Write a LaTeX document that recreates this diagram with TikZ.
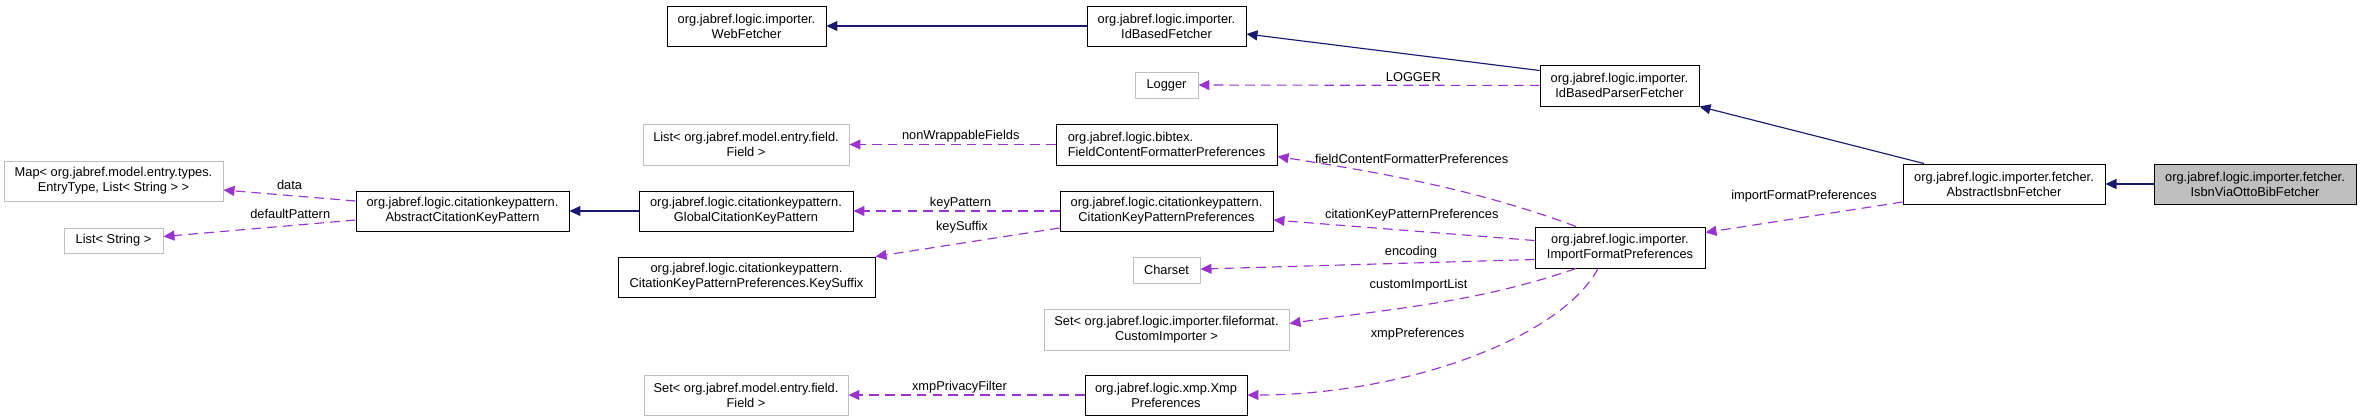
\documentclass[tikz,border=0pt]{standalone}
\usepackage{fontspec}
\setmainfont{Liberation Sans}
\usepackage{tikz}
\usetikzlibrary{calc,arrows.meta}
\definecolor{dxnavy}{RGB}{25,25,112}
\definecolor{dxpurple}{RGB}{154,50,205}
\definecolor{dxgrey}{RGB}{191,191,191}
\tikzset{
  boxfont/.style={font=\fontsize{7.3}{8.6}\selectfont},
  classbox/.style={boxfont,draw=black,fill=white,line width=0.55pt,inner sep=0pt,align=center},
  extbox/.style={classbox,draw=dxgrey},
  focusbox/.style={classbox,fill=dxgrey},
  inhline/.style={draw=dxnavy,line width=0.65pt,-{Triangle[length=2.2mm,width=2mm]}},
  useline/.style={draw=dxpurple,line width=0.65pt,dash pattern=on 5.5pt off 3.5pt,
    -{Triangle[length=2.2mm,width=2mm]}},
  edgelabel/.style={boxfont,inner sep=0pt,anchor=center,text=black},
}
% box from pixel corners: style, name, x1, y1, x2, y2, text
\newcommand{\dbox}[7]{%
  \node[#1,minimum width={(#5-#3)*0.02cm},minimum height={(#6-#4)*0.02cm}]
    (#2) at ({(#3+#5)/2},{(#4+#6)/2}) {#7};}

\begin{document}
\begin{tikzpicture}[x=0.02cm,y=-0.02cm]
        \useasboundingbox (0,0) rectangle (2361,417);
        \dbox{classbox}{web}{667}{6}{826}{46}{org.jabref.logic.importer.\\WebFetcher}
        \dbox{classbox}{idf}{1087}{6}{1246}{46}{org.jabref.logic.importer.\\IdBasedFetcher}
        \dbox{extbox}{logger}{1135}{72}{1198}{98}{Logger}
        \dbox{classbox}{idbp}{1540}{65}{1699}{106}{org.jabref.logic.importer.\\IdBasedParserFetcher}
        \dbox{extbox}{lfield}{643}{124}{849}{165}{List< org.jabref.model.entry.field.\\Field >}
        \dbox{classbox,align=left}{fcfp}{1056}{124}{1277}{165}{org.jabref.logic.bibtex.\\FieldContentFormatterPreferences}
        \dbox{extbox}{map}{4}{161}{223}{201}{Map< org.jabref.model.entry.types.\\EntryType, List< String > >}
        \dbox{classbox}{abs}{356}{191}{569}{231}{org.jabref.logic.citationkeypattern.\\AbstractCitationKeyPattern}
        \dbox{classbox}{glob}{639}{191}{853}{231}{org.jabref.logic.citationkeypattern.\\GlobalCitationKeyPattern}
        \dbox{classbox}{ckpp}{1060}{191}{1273}{231}{org.jabref.logic.citationkeypattern.\\CitationKeyPatternPreferences}
        \dbox{extbox}{lstr}{64}{228}{163}{253}{List< String >}
        \dbox{classbox}{suffix}{618}{257}{875}{297}{org.jabref.logic.citationkeypattern.\\CitationKeyPatternPreferences.KeySuffix}
        \dbox{extbox}{charset}{1133}{257}{1200}{283}{Charset}
        \dbox{extbox}{setci}{1044}{309}{1289}{350}{Set< org.jabref.logic.importer.fileformat.\\CustomImporter >}
        \dbox{classbox}{ifp}{1535}{227}{1705}{268}{org.jabref.logic.importer.\\ImportFormatPreferences}
        \dbox{classbox}{aisbn}{1903}{164}{2105}{204}{org.jabref.logic.importer.fetcher.\\AbstractIsbnFetcher}
        \dbox{focusbox}{isbn}{2154}{164}{2356}{204}{org.jabref.logic.importer.fetcher.\\IsbnViaOttoBibFetcher}
        \dbox{extbox}{setf}{644}{375}{848}{415}{Set< org.jabref.model.entry.field.\\Field >}
        \dbox{classbox}{xmp}{1085}{375}{1247}{415}{org.jabref.logic.xmp.Xmp\\Preferences}
        % inheritance
        \draw[inhline] (idf) -- (web);
        \draw[inhline] ($(idbp.west)+(0,-15)$) -- ($(idf.east)+(0,8)$);
        \draw[inhline] ($(aisbn.north)+(-80,0)$) -- (idbp.south east);
        \draw[inhline] (isbn) -- (aisbn);
        \draw[inhline] (glob) -- (abs);
        % usage
        \draw[useline] ($(abs.west)+(0,-10)$) -- node[edgelabel,pos=0.5,yshift=0.21cm] {data} ($(map.east)+(0,9)$);
        \draw[useline] ($(abs.west)+(0,9)$) -- node[edgelabel,pos=0.34,yshift=0.23cm] {defaultPattern} ($(lstr.east)+(0,-4)$);
        \draw[useline] (fcfp) -- node[edgelabel,pos=0.46,yshift=0.17cm] {nonWrappableFields} (lfield);
        \draw[useline] (ckpp) -- node[edgelabel,pos=0.48,yshift=0.16cm] {keyPattern} (glob);
        \draw[useline] ($(ckpp.west)+(0,17)$) -- node[edgelabel,pos=0.53,yshift=0.32cm] {keySuffix} (suffix.north east);
        \draw[useline] (idbp) -- node[edgelabel,pos=0.37,yshift=0.17cm] {LOGGER} (logger);
        \draw[useline] ($(ifp.north)+(-44,0)$) .. controls (1476,189) and (1377,172)
          .. node[edgelabel,pos=0.55,yshift=0.42cm] {fieldContentFormatterPreferences} ($(fcfp.east)+(0,12)$);
        \draw[useline] ($(ifp.west)+(0,-7)$) -- node[edgelabel,pos=0.47,yshift=0.31cm] {citationKeyPatternPreferences} ($(ckpp.east)+(0,9)$);
        \draw[useline] ($(ifp.west)+(0,12)$) -- node[edgelabel,pos=0.37,yshift=0.21cm] {encoding} (charset);
        \draw[useline] ($(ifp.south)+(-44,0)$) .. controls (1476,303) and (1389,309)
          .. node[edgelabel,pos=0.55,yshift=0.42cm] {customImportList} ($(setci.east)+(0,-6)$);
        \draw[useline] ($(ifp.south)+(-22,0)$) .. controls (1560,340) and (1400,395)
          .. node[edgelabel,pos=0.62,yshift=0.78cm] {xmpPreferences} (xmp);
        \draw[useline] ($(aisbn.west)+(0,18)$) -- node[edgelabel,pos=0.5,yshift=0.42cm] {importFormatPreferences} ($(ifp.east)+(0,-15)$);
        \draw[useline] (xmp) -- node[edgelabel,pos=0.53,yshift=0.16cm] {xmpPrivacyFilter} (setf);
      \end{tikzpicture}
\end{document}
